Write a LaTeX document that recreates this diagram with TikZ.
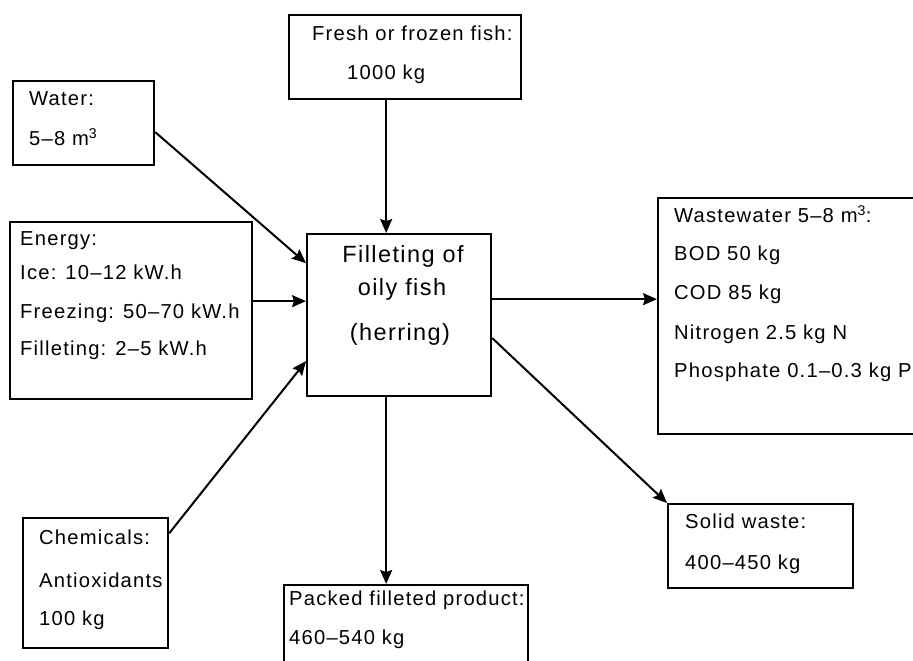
\documentclass[tikz,border=0pt]{standalone}
\usepackage{fontspec}
\setmainfont{Liberation Sans}[LetterSpace=6]
\usetikzlibrary{arrows.meta}

\begin{document}
\begin{tikzpicture}[x=1pt,y=-1pt,
  box/.style={draw, line width=2.3pt, inner sep=0pt, anchor=north west},
  txt/.style={anchor=mid west, inner sep=0pt, font=\fontsize{20.2}{24}\selectfont},
  bigtxt/.style={anchor=mid, inner sep=0pt, font=\fontsize{23.5}{27}\selectfont},
  flow/.style={line width=2pt, -{Stealth[length=14pt,width=12pt,inset=2pt]}}]
\useasboundingbox (0,0) rectangle (913,661);
\clip (0,0) rectangle (913,661);

% boxes
\node[box, minimum width=232pt, minimum height=84pt]  (fresh)  at (288,14)  {};
\node[box, minimum width=141pt, minimum height=84pt]  (water)  at (12,80)   {};
\node[box, minimum width=242pt, minimum height=177pt] (energy) at (9,221)   {};
\node[box, minimum width=184pt, minimum height=162pt] (ctr)    at (306,233) {};
\node[box, minimum width=280pt, minimum height=236pt] (waste)  at (657,197) {};
\node[box, minimum width=145pt, minimum height=130pt] (chem)   at (22,517)  {};
\node[box, minimum width=244pt, minimum height=100pt] (packed) at (283,584) {};
\node[box, minimum width=185pt, minimum height=84pt]  (solid)  at (667,503) {};

% texts
\node[txt] (t1a) at (312,38) {Fresh or frozen fish:};
\node[txt] (t1b) at (347,77) {1000 kg};

\node[txt] (t2a) at (29,103) {Water:};
\node[txt] (t2b) at (29,143) {5–8 m\textsuperscript{3}};

\node[txt] (t3a) at (20,243) {Energy:};
\node[txt] (t3b) at (20,277) {Ice: 10–12 kW.h};
\node[txt] (t3c) at (20,316) {Freezing: 50–70 kW.h};
\node[txt] (t3d) at (20,353) {Filleting: 2–5 kW.h};

\node[bigtxt] (t4a) at (403,260) {Filleting of};
\node[bigtxt] (t4b) at (402,293) {oily fish};
\node[bigtxt] (t4c) at (400,338) {(herring)};

\node[txt] (t5a) at (674,220) {Wastewater 5–8 m\textsuperscript{3}:};
\node[txt] (t5b) at (674,258) {BOD 50 kg};
\node[txt] (t5c) at (674,297) {COD 85 kg};
\node[txt] (t5d) at (674,337) {Nitrogen 2.5 kg N};
\node[txt] (t5e) at (674,375) {Phosphate 0.1–0.3 kg P};

\node[txt] (t6a) at (39,542) {Chemicals:};
\node[txt] (t6b) at (39,585) {Antioxidants};
\node[txt] (t6c) at (39,623) {100 kg};

\node[txt] (t7a) at (289,603) {Packed filleted product:};
\node[txt] (t7b) at (289,642) {460–540 kg};

\node[txt] (t8a) at (685,526) {Solid waste:};
\node[txt] (t8b) at (685,567) {400–450 kg};

% connector end points on the box borders
\coordinate (fin)  at ([xshift=-19pt]fresh.south);
\coordinate (pout) at ([xshift=-13pt]ctr.south);
\coordinate (wout) at ([yshift=16pt]ctr.east);

% flows
\draw[flow] (fin) -- (fin |- ctr.north);
\draw[flow] ([yshift=-9pt]water.east) -- ([yshift=52pt]ctr.west);
\draw[flow] ([yshift=9.5pt]energy.east) -- ([yshift=9.5pt]energy.east -| ctr.west);
\draw[flow] ([yshift=50pt]chem.east) -- ([yshift=-46pt]ctr.west);
\draw[flow] (wout) -- (wout -| waste.west);
\draw[flow] ([yshift=-23pt]ctr.east) -- (solid.north west);
\draw[flow] (pout) -- (pout |- packed.north);
\end{tikzpicture}
\end{document}
